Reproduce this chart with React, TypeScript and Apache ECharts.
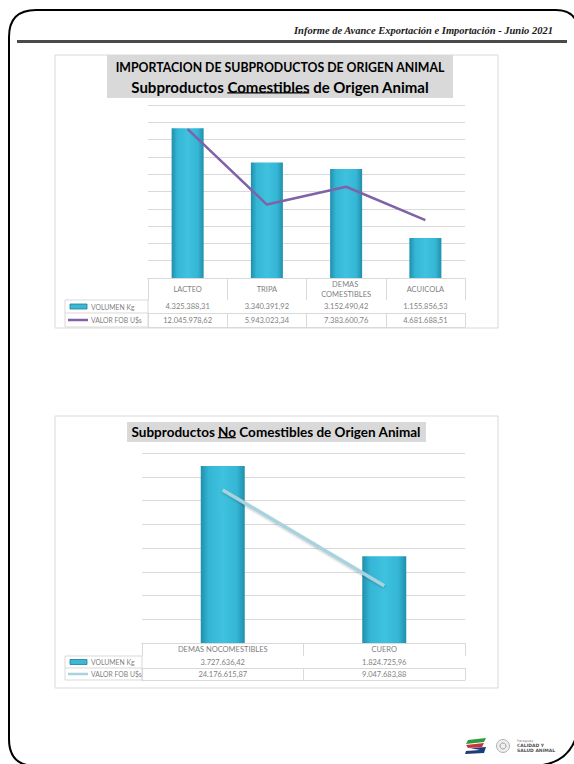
import React, { useEffect, useRef } from "react";
import * as echarts from "echarts";

const categories1 = ["LACTEO", "TRIPA", "DEMAS COMESTIBLES", "ACUICOLA"];
const volumen1 = [4325388.31, 3340391.92, 3152490.42, 1155856.53];
const valorFob1 = [12045978.62, 5943023.34, 7383600.76, 4681688.51];

const categories2 = ["DEMAS NOCOMESTIBLES", "CUERO"];
const volumen2 = [3727636.42, 1824725.96];
const valorFob2 = [24176615.87, 9047683.88];

const seriesNames = ["VOLUMEN Kg", "VALOR FOB U$s"];
const title1a = "IMPORTACION DE SUBPRODUCTOS DE ORIGEN ANIMAL";
const title1b = ["Subproductos ", "Comestibles", " de Origen Animal"];
const title2 = ["Subproductos ", "No", " Comestibles de Origen Animal"];
const headerText = "Informe de Avance Exportación e Importación - Junio 2021";

function fmt(v: number): string {
  const [i, d] = v.toFixed(2).split(".");
  return i.replace(/\B(?=(\d{3})+(?!\d))/g, ".") + "," + d;
}

function measure(text: string, font: string): number {
  const c = document.createElement("canvas").getContext("2d")!;
  c.font = font;
  return c.measureText(text).width;
}

const GRID = "#d9d9d9";
const TXT = "#7f7f7f";
const FONT = "Lato";

function barGradient() {
  return new echarts.graphic.LinearGradient(0, 0, 1, 0, [
    { offset: 0, color: "#1f8fad" },
    { offset: 0.18, color: "#34b6d4" },
    { offset: 0.5, color: "#3ec2de" },
    { offset: 0.82, color: "#34b6d4" },
    { offset: 1, color: "#1f8fad" },
  ]);
}

function tableAxis(gridIndex: number, data: string[], offset: number, tickLen: number, margin: number, showLabel = true, labelWidth?: number) {
  return {
    type: "category",
    gridIndex,
    position: "bottom",
    data,
    offset,
    axisLine: { show: true, lineStyle: { color: GRID, width: 1 } },
    axisTick: { show: tickLen > 0, interval: 0, length: tickLen, lineStyle: { color: GRID, width: 1 } },
    axisLabel: {
      show: showLabel,
      interval: 0,
      margin,
      verticalAlign: "middle",
      color: TXT,
      fontFamily: FONT,
      fontSize: 7.5,
      lineHeight: 10,
      ...(labelWidth ? { width: labelWidth, overflow: "break" } : {}),
    },
    splitLine: { show: false },
  };
}

function hiddenY(gridIndex: number, max: number, interval: number, split: boolean) {
  return {
    type: "value",
    gridIndex,
    min: 0,
    max,
    interval,
    axisLabel: { show: false },
    axisLine: { show: false },
    axisTick: { show: false },
    splitLine: { show: split, lineStyle: { color: GRID, width: 1 } },
  };
}

function underlinedTitle(parts: string[], cx: number, cy: number, size: number) {
  const font = `bold ${size}px ${FONT}`;
  const full = parts.join("");
  const W = measure(full, font);
  const P = measure(parts[0], font);
  const U = measure(parts[1], font);
  const x0 = cx - W / 2;
  return [
    {
      type: "text",
      x: cx,
      y: cy,
      style: { text: full, fill: "#000", font, align: "center", verticalAlign: "middle" },
    },
    {
      type: "line",
      shape: { x1: x0 + P, y1: cy + size * 0.42, x2: x0 + P + U, y2: cy + size * 0.42 },
      style: { stroke: "#000", lineWidth: 1.2 },
    },
  ];
}

function legendCells(x: number, y: number, w: number, h1: number, h2: number, lineColor: string) {
  const mid1 = y + h1 / 2;
  const mid2 = y + h1 + h2 / 2;
  return [
    { type: "rect", shape: { x, y, width: w, height: h1 + h2 }, style: { fill: "none", stroke: GRID, lineWidth: 1 } },
    { type: "line", shape: { x1: x, y1: y + h1, x2: x + w, y2: y + h1 }, style: { stroke: GRID, lineWidth: 1 } },
    { type: "rect", shape: { x: x + 5, y: mid1 - 2.5, width: 17, height: 5 }, style: { fill: "#3ab8d5", stroke: "#1d7d95", lineWidth: 0.8 } },
    { type: "line", shape: { x1: x + 3, y1: mid2, x2: x + 23, y2: mid2 }, style: { stroke: lineColor, lineWidth: 2.5 } },
    { type: "text", x: x + 26, y: mid1, style: { text: seriesNames[0], fill: TXT, font: `6.8px ${FONT}`, verticalAlign: "middle" } },
    { type: "text", x: x + 26, y: mid2, style: { text: seriesNames[1], fill: TXT, font: `6.8px ${FONT}`, verticalAlign: "middle" } },
  ];
}

const borderPath =
  "M36,10 L556,10 Q579,10 579,36 L579,715 Q579,766 530,766 L36,766 Q9,766 9,739 L9,37 Q9,10 36,10 Z";
echarts.graphic.registerShape("pageBorder", echarts.graphic.extendPath(borderPath, {}) as any);

export default function App() {
  const ref = useRef<HTMLDivElement>(null);

  useEffect(() => {
    if (!ref.current) return;
    const chart = echarts.init(ref.current, undefined, { renderer: "svg" });

    const option: any = {
      animation: false,
      backgroundColor: "#ffffff",
      grid: [
        { left: 148, top: 105, width: 317, height: 173 },
        { left: 142, top: 453, width: 323, height: 190 },
      ],
      xAxis: [
        tableAxis(0, categories1, 0, 22, 11, true, 64),
        tableAxis(0, volumen1.map(fmt), 22, 13, 6.5),
        tableAxis(0, valorFob1.map(fmt), 35, 14, 7),
        tableAxis(0, categories1, 49, 0, 0, false),
        tableAxis(1, categories2, 0, 13, 6.5),
        tableAxis(1, volumen2.map(fmt), 13, 12, 6),
        tableAxis(1, valorFob2.map(fmt), 25, 12, 6),
        tableAxis(1, categories2, 37, 0, 0, false),
      ],
      yAxis: [
        hiddenY(0, 5000000, 500000, true),
        hiddenY(0, 14000000, 1400000, false),
        hiddenY(1, 4000000, 500000, true),
        hiddenY(1, 30000000, 3750000, false),
      ],
      series: [
        {
          name: seriesNames[0],
          type: "bar",
          xAxisIndex: 0,
          yAxisIndex: 0,
          data: volumen1,
          barWidth: 32,
          itemStyle: { color: barGradient() },
        },
        {
          name: seriesNames[1],
          type: "line",
          xAxisIndex: 0,
          yAxisIndex: 1,
          data: valorFob1,
          symbol: "none",
          lineStyle: { color: "#7f62a8", width: 2.5 },
          z: 5,
        },
        {
          name: seriesNames[0],
          type: "bar",
          xAxisIndex: 4,
          yAxisIndex: 2,
          data: volumen2,
          barWidth: 44,
          itemStyle: { color: barGradient() },
        },
        {
          name: seriesNames[1],
          type: "line",
          xAxisIndex: 4,
          yAxisIndex: 3,
          data: valorFob2,
          symbol: "none",
          lineStyle: { color: "#a8d2de", width: 3.5, shadowColor: "rgba(0,0,0,0.25)", shadowBlur: 2, shadowOffsetY: 1 },
          z: 5,
        },
      ],
      graphic: [
        { type: "pageBorder", x: 0, y: 0, scaleX: 1, scaleY: 1, style: { fill: "none", stroke: "#000", lineWidth: 2 }, z: 0 },
        { type: "line", shape: { x1: 17, y1: 41.5, x2: 567, y2: 41.5 }, style: { stroke: "#4a4a4a", lineWidth: 3 } },
        {
          type: "text",
          x: 553,
          y: 30,
          style: {
            text: headerText,
            fill: "#1a1a1a",
            font: "italic bold 10.5px 'Liberation Serif'",
            align: "right",
            verticalAlign: "middle",
          },
        },
        { type: "rect", shape: { x: 55, y: 55, width: 443, height: 273 }, style: { fill: "none", stroke: GRID, lineWidth: 1 }, z: 0 },
        { type: "rect", shape: { x: 107, y: 55, width: 346, height: 43 }, style: { fill: "#d9d9d9" } },
        {
          type: "text",
          x: 280,
          y: 67,
          style: { text: title1a, fill: "#000", font: `bold 12.3px ${FONT}`, align: "center", verticalAlign: "middle" },
        },
        ...underlinedTitle(title1b, 280, 86.5, 15),
        ...legendCells(65, 300, 83, 13, 14, "#7f62a8"),
        { type: "rect", shape: { x: 55, y: 416, width: 443, height: 272 }, style: { fill: "none", stroke: GRID, lineWidth: 1 }, z: 0 },
        { type: "rect", shape: { x: 127, y: 422, width: 299, height: 20 }, style: { fill: "#d9d9d9" } },
        ...underlinedTitle(title2, 276, 432, 13.5),
        ...legendCells(65, 656, 77, 12, 12, "#a8d2de"),
        { type: "polygon", shape: { points: [[468, 740], [486, 738], [484, 742], [466, 744]] }, style: { fill: "#2e9a3e" } },
        { type: "polygon", shape: { points: [[466, 745], [484, 743], [482, 747], [468, 748]] }, style: { fill: "#c8343a" } },
        { type: "polygon", shape: { points: [[470, 748], [486, 747], [484, 753], [465, 754], [466, 751], [480, 750]] }, style: { fill: "#1d3c78" } },
        { type: "circle", shape: { cx: 503, cy: 746, r: 6.5 }, style: { fill: "#eeeeee", stroke: "#a0a0a0", lineWidth: 0.8 } },
        { type: "circle", shape: { cx: 503, cy: 746, r: 3 }, style: { fill: "none", stroke: "#8a8a8a", lineWidth: 0.8 } },
        { type: "text", x: 517, y: 741, style: { text: "Paraguay", fill: "#888", font: "3.5px 'DejaVu Sans'", verticalAlign: "middle" } },
        { type: "text", x: 517, y: 745.5, style: { text: "CALIDAD Y", fill: "#555", font: "bold 4.5px 'DejaVu Sans'", verticalAlign: "middle" } },
        { type: "text", x: 517, y: 750.5, style: { text: "SALUD ANIMAL", fill: "#555", font: "bold 4.5px 'DejaVu Sans'", verticalAlign: "middle" } },
      ],
    };

    chart.setOption(option);
    return () => chart.dispose();
  }, []);

  return (
    <div
      ref={ref}
      style={{ position: "absolute", left: 0, top: 0, width: 574, height: 764, background: "#fff" }}
    />
  );
}
